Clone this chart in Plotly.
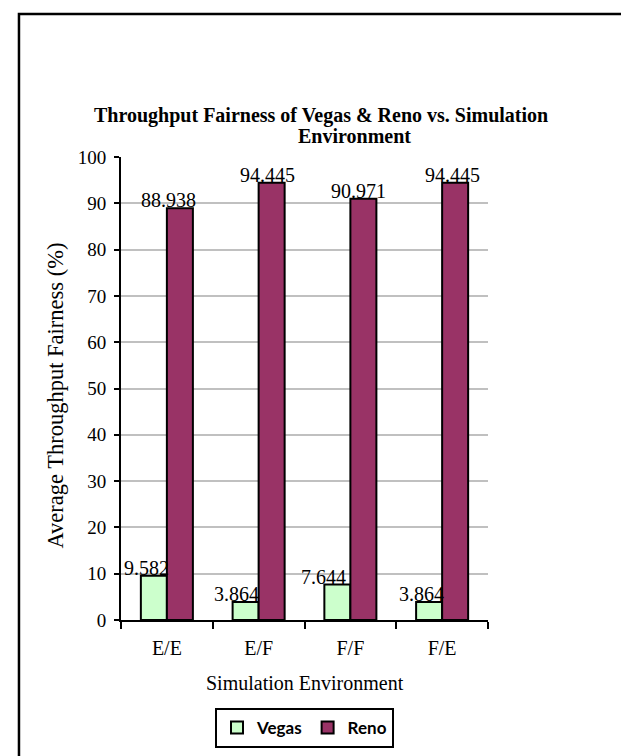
import plotly.graph_objects as go

categories = ["E/E", "E/F", "F/F", "F/E"]
vegas = [9.582, 3.864, 7.644, 3.864]
reno = [88.938, 94.445, 90.971, 94.445]
vegas_labels = ["9.582", "3.864", "7.644", "3.864"]
reno_labels = ["88.938", "94.445", "90.971", "94.445"]
y_ticks = [0, 10, 20, 30, 40, 50, 60, 70, 80, 90, 100]

SERIF = "Liberation Serif, Times New Roman, serif"

fig = go.Figure()
fig.add_trace(go.Bar(name="Vegas", x=categories, y=vegas,
                     marker=dict(color="#CCFFCC", line=dict(color="black", width=2))))
fig.add_trace(go.Bar(name="Reno", x=categories, y=reno,
                     marker=dict(color="#993366", line=dict(color="black", width=2))))

# horizontal nudges of the value labels (pixels, relative to category centre)
vegas_dx = [-20, -22, -27, -21]
reno_dx = [2, 9, 8, 10]

annotations = []
for c, v, t, dx in zip(categories, vegas, vegas_labels, vegas_dx):
    annotations.append(dict(x=c, y=v, xref="x", yref="y", text=t, showarrow=False,
                            xanchor="center", yanchor="bottom", xshift=dx, yshift=-5,
                            font=dict(family=SERIF, size=20, color="black")))
for c, v, t, dx in zip(categories, reno, reno_labels, reno_dx):
    annotations.append(dict(x=c, y=v, xref="x", yref="y", text=t, showarrow=False,
                            xanchor="center", yanchor="bottom", xshift=dx, yshift=-5,
                            font=dict(family=SERIF, size=20, color="black")))

# title (two lines)
annotations.append(dict(x=0.545, y=1.0907, xref="paper", yref="paper", showarrow=False,
                        text="<b>Throughput Fairness of Vegas & Reno vs. Simulation</b>",
                        xanchor="center", yanchor="middle",
                        font=dict(family=SERIF, size=20, color="black")))
annotations.append(dict(x=0.6376, y=1.0454, xref="paper", yref="paper", showarrow=False,
                        text="<b>Environment</b>",
                        xanchor="center", yanchor="middle",
                        font=dict(family=SERIF, size=20, color="black")))
# axis titles
annotations.append(dict(x=0.5, y=-0.136, xref="paper", yref="paper", showarrow=False,
                        text="Simulation Environment", xanchor="center", yanchor="middle",
                        font=dict(family=SERIF, size=20, color="black")))
annotations.append(dict(x=-0.178, y=0.484, xref="paper", yref="paper", showarrow=False,
                        text="Average Throughput Fairness (%)", textangle=-90,
                        xanchor="center", yanchor="middle",
                        font=dict(family=SERIF, size=22.5, color="black")))

fig.update_layout(
    width=629, height=756, autosize=False,
    margin=dict(l=113, r=149, t=149, b=144),
    paper_bgcolor="white", plot_bgcolor="white",
    barmode="group", bargap=0.433, bargroupgap=0,
    showlegend=True,
    legend=dict(orientation="h", x=0.5, xanchor="center", y=-0.19, yanchor="top",
                bordercolor="black", borderwidth=2, itemwidth=30,
                font=dict(family="Lato, Open Sans, sans-serif", size=17, color="black", weight="bold")),
    annotations=annotations,
    shapes=[dict(type="rect", xref="paper", yref="paper", x0=-0.278, x1=1.45, y0=-0.36, y1=1.309,
                 line=dict(color="black", width=2.5), fillcolor="rgba(0,0,0,0)", layer="below")],
)
fig.update_xaxes(type="category", showline=True, linecolor="black", linewidth=2,
                 ticks="outside", tickson="boundaries", ticklen=7, tickwidth=2, tickcolor="black",
                 showgrid=False, ticklabelstandoff=9,
                 tickfont=dict(family=SERIF, size=20, color="black"))
fig.update_yaxes(range=[0, 100], tickvals=y_ticks, showline=True, linecolor="black", linewidth=2,
                 ticks="outside", ticklen=5, tickwidth=2, tickcolor="black",
                 showgrid=True, gridcolor="#C0C0C0", gridwidth=2, zeroline=False,
                 ticklabelstandoff=4,
                 tickfont=dict(family=SERIF, size=19, color="black"))

fig.write_html("out.html")
